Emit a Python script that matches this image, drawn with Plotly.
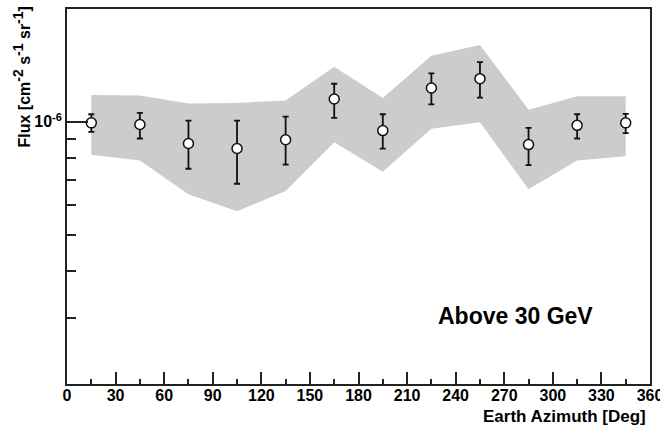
import plotly.graph_objects as go
import math

# Data (flux in cm^-2 s^-1 sr^-1)
azimuth = [15, 45, 75, 105, 135, 165, 195, 225, 255, 285, 315, 345]
flux = [0.994e-6, 0.984e-6, 0.876e-6, 0.849e-6, 0.896e-6, 1.151e-6,
        0.948e-6, 1.231e-6, 1.304e-6, 0.870e-6, 0.979e-6, 0.994e-6]
err_upper = [1.048e-6, 1.057e-6, 1.008e-6, 1.008e-6, 1.033e-6, 1.264e-6,
             1.048e-6, 1.347e-6, 1.444e-6, 0.964e-6, 1.048e-6, 1.050e-6]
err_lower = [0.941e-6, 0.903e-6, 0.750e-6, 0.684e-6, 0.769e-6, 1.025e-6,
             0.849e-6, 1.114e-6, 1.160e-6, 0.767e-6, 0.903e-6, 0.933e-6]
band_upper = [1.180e-6, 1.175e-6, 1.119e-6, 1.123e-6, 1.141e-6, 1.403e-6,
              1.158e-6, 1.500e-6, 1.603e-6, 1.078e-6, 1.170e-6, 1.170e-6]
band_lower = [0.817e-6, 0.789e-6, 0.641e-6, 0.578e-6, 0.654e-6, 0.882e-6,
              0.736e-6, 0.958e-6, 0.998e-6, 0.661e-6, 0.789e-6, 0.810e-6]

x_ticks = list(range(0, 361, 30))
y_major = [1e-6]
y_major_text = ["10<sup>-6</sup>"]
y_minor = [3e-7, 4e-7, 5e-7, 6e-7, 7e-7, 8e-7, 9e-7]
y_range = [2e-7, 2e-6]

FONT = "Liberation Sans, Arial, sans-serif"

fig = go.Figure()

fig.add_trace(go.Scatter(
    x=azimuth + azimuth[::-1],
    y=band_upper + band_lower[::-1],
    fill="toself", fillcolor="#cccccc",
    line=dict(width=0), mode="lines", hoverinfo="skip", showlegend=False,
))

fig.add_trace(go.Scatter(
    x=azimuth, y=flux, mode="markers",
    marker=dict(symbol="circle", size=10, color="white",
                line=dict(color="#111111", width=1.5)),
    error_y=dict(type="data", symmetric=False,
                 array=[u - f for u, f in zip(err_upper, flux)],
                 arrayminus=[f - l for f, l in zip(flux, err_lower)],
                 color="#111111", thickness=1.8, width=3),
    showlegend=False,
))

fig.update_layout(
    width=660, height=425,
    margin=dict(l=67, r=10, t=9, b=41, autoexpand=False),
    paper_bgcolor="white", plot_bgcolor="white",
    font=dict(family=FONT, color="black"),
)

fig.update_xaxes(
    range=[0, 360], tickvals=x_ticks, ticks="inside", ticklen=12, tickwidth=1.5,
    tickcolor="#222222", showgrid=False, zeroline=False, automargin=False,
    showline=True, linecolor="#222222", linewidth=1.5, mirror=True,
    ticklabeloverflow="allow", ticklabelstandoff=-4,
    tickfont=dict(family=FONT, size=16, color="black", weight="bold"),
    minor=dict(dtick=15, ticks="inside", ticklen=5, tickwidth=1.5, tickcolor="#222222", showgrid=False),
)

fig.update_yaxes(
    type="log", range=[math.log10(y_range[0]), math.log10(y_range[1])],
    tickvals=y_major, ticktext=y_major_text, ticks="inside", ticklen=21, tickwidth=1.5,
    tickcolor="#222222", showgrid=False, zeroline=False, automargin=False,
    showline=True, linecolor="#222222", linewidth=1.5, mirror=True,
    ticklabeloverflow="allow",
    tickfont=dict(family=FONT, size=16, color="black", weight="bold"),
    minor=dict(tickvals=y_minor, ticks="inside", ticklen=9, tickwidth=1.5, tickcolor="#222222", showgrid=False),
)

SUP = "<sup><span style='font-size:14px'>{}</span></sup>"
fig.add_annotation(
    text="Flux [cm" + SUP.format("-2") + " s" + SUP.format("-1") + " sr" + SUP.format("-1") + "]",
    xref="paper", yref="paper", x=0, y=1, xshift=-45, yshift=4,
    xanchor="center", yanchor="top", textangle=-90, showarrow=False,
    font=dict(family=FONT, size=16, color="black", weight="bold"),
)

fig.add_annotation(
    text="Earth Azimuth [Deg]",
    xref="paper", yref="paper", x=1, y=0, xshift=-2, yshift=-32,
    xanchor="right", yanchor="middle", showarrow=False,
    font=dict(family=FONT, size=17, color="black", weight="bold"),
)

fig.add_annotation(
    text="Above 30 GeV",
    xref="x", yref="paper", x=270, y=0, yshift=68, xshift=11,
    xanchor="center", yanchor="middle", showarrow=False,
    font=dict(family=FONT, size=23, color="black", weight="bold"),
)

fig.write_html("out.html", config={"displayModeBar": False},
               post_script="document.body.style.margin='0';document.body.style.padding='0';")
